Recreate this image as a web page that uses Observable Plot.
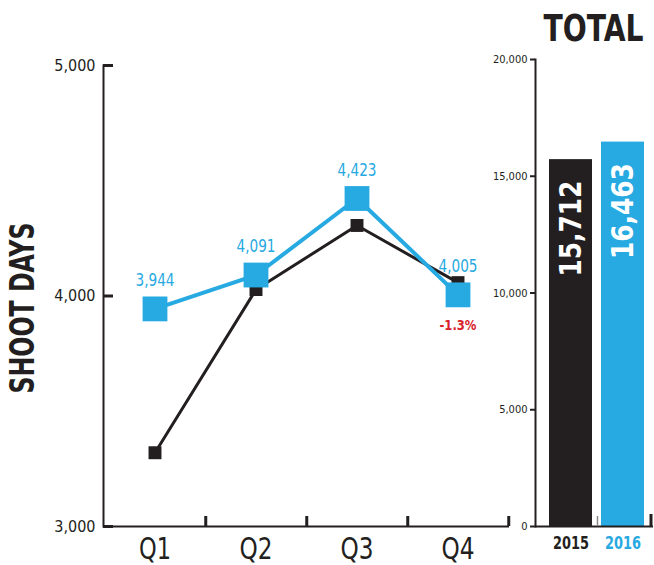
<!DOCTYPE html>
<html><head><meta charset="utf-8">
<script src="https://cdn.jsdelivr.net/npm/d3@7"></script>
<script src="https://cdn.jsdelivr.net/npm/@observablehq/plot@0.6"></script>
<style>
body{margin:0;background:#fff;}
#wrap{position:relative;width:654px;height:565px;overflow:hidden;background:#fff;}
#left{position:absolute;left:0;top:0}
#right{position:absolute;left:480px;top:0}
</style></head><body><div id="wrap"><div id="left"></div><div id="right"></div></div>
<script>
const quarters = ["Q1", "Q2", "Q3", "Q4"];
const days2015 = [3320, 4028, 4306, 4058];
const days2016 = [3944, 4091, 4423, 4005];
const yTicks = [3000, 4000, 5000];
const years = ["2015", "2016"];
const totals = [15712, 16463];
const totalTicks = [0, 5000, 10000, 15000, 20000];
const q4Change = "-1.3%";
const yTitle = "SHOOT DAYS";
const totalTitle = "TOTAL";

const BLUE = "#27a9e1", BLACK = "#231f20", RED = "#d8232a", GRAY = "#888";
const FONT = "'Liberation Sans Narrow','DejaVu Sans Condensed','Roboto',sans-serif";
const fmt = d3.format(",");

// rendered widths (px) of the condensed texts, to mimic the narrow typeface
const textWidths = {
  "SHOOT DAYS": 171, "TOTAL": 100, "15,712": 96, "16,463": 96,
  "Q1": 32, "Q2": 33, "Q3": 33, "Q4": 33, "2015": 36, "2016": 36,
  "3,944": 39, "4,091": 39, "4,423": 39, "4,005": 39, "-1.3%": 37
};
function condense(svg) {
  svg.querySelectorAll("text").forEach(t => {
    const w = textWidths[t.textContent];
    if (w) { t.setAttribute("textLength", w); t.setAttribute("lengthAdjust", "spacingAndGlyphs"); }
  });
  return svg;
}

const rows15 = quarters.map((q, i) => ({q, v: days2015[i]}));
const rows16 = quarters.map((q, i) => ({q, v: days2016[i]}));
const bars = years.map((year, i) => ({year, total: totals[i]}));

const LW = 520, LML = 103, LMR = 11;
const halfBand = (LW - LML - LMR) / quarters.length / 2;

const left = Plot.plot({
  width: LW, height: 565, marginLeft: LML, marginRight: LMR, marginTop: 65, marginBottom: 39,
  style: {fontFamily: FONT, background: "transparent", overflow: "visible", color: BLACK},
  x: {type: "band", domain: quarters, padding: 0},
  y: {domain: [3000, 5000]},
  marks: [
    Plot.frame({anchor: "left", stroke: BLACK, strokeWidth: 2}),
    Plot.ruleY([3000], {stroke: BLACK, strokeWidth: 2}),
    Plot.axisY({ticks: yTicks, tickSize: -10, tickFormat: () => "", strokeWidth: 3, label: null}),
    Plot.axisY({ticks: yTicks, tickSize: 0, tickPadding: 8, tickFormat: fmt, fontSize: 16, label: null}),
    Plot.axisX({tickSize: -10, dx: halfBand, tickFormat: () => "", strokeWidth: 3, label: null}),
    Plot.axisX({tickSize: 0, tickPadding: 11, fontSize: 30, label: null}),
    Plot.text([yTitle], {frameAnchor: "left", textAnchor: "middle", dx: -80, dy: 12, rotate: -90, fontSize: 34, fontWeight: 900, fill: BLACK}),
    Plot.line(rows15, {x: "q", y: "v", stroke: BLACK, strokeWidth: 3}),
    Plot.dot(rows15, {x: "q", y: "v", symbol: "square", r: 7.3, fill: BLACK, stroke: null}),
    Plot.line(rows16, {x: "q", y: "v", stroke: BLUE, strokeWidth: 4}),
    Plot.dot(rows16, {x: "q", y: "v", symbol: "square", r: 14, fill: BLUE, stroke: null}),
    Plot.text(rows16, {x: "q", y: "v", text: d => fmt(d.v), dy: -28, fill: BLUE, fontSize: 17}),
    Plot.text([q4Change], {x: () => quarters[3], y: () => days2016[3], dy: 31, fill: RED, fontSize: 14, fontWeight: "bold"})
  ]
});
document.getElementById("left").append(condense(left));

const right = Plot.plot({
  width: 174, height: 565, marginLeft: 55, marginRight: 1, marginTop: 59, marginBottom: 39,
  style: {fontFamily: FONT, background: "transparent", overflow: "visible", color: BLACK},
  x: {domain: years, paddingInner: 0.17, paddingOuter: 0.2, align: 0.62},
  y: {domain: [0, 20000]},
  color: {domain: years, range: [BLACK, BLUE]},
  marks: [
    Plot.barY(bars, {x: "year", y: "total", fill: "year"}),
    Plot.frame({anchor: "left", stroke: BLACK, strokeWidth: 2}),
    Plot.ruleY([0], {stroke: BLACK, strokeWidth: 2}),
    Plot.axisY({ticks: totalTicks, tickSize: 5, tickPadding: 3, strokeWidth: 2, tickFormat: fmt, fontSize: 11, label: null}),
    Plot.axisX({ticks: [years[0]], tickSize: -10, dx: 26.5, tickFormat: () => "", stroke: GRAY, strokeWidth: 1.5, label: null}),
    Plot.axisX({ticks: [years[1]], tickSize: -12, dx: 28, tickFormat: () => "", stroke: BLACK, strokeWidth: 3, label: null}),
    Plot.axisX({tickSize: 0, tickPadding: 10, fontSize: 18, fontWeight: "bold", fill: d => d, label: null}),
    Plot.text(bars, {x: "year", y: "total", text: d => fmt(d.total), rotate: -90, textAnchor: "end", dy: 21, fill: "white", fontSize: 30, fontWeight: "bold"}),
    Plot.text([totalTitle], {frameAnchor: "top", dx: -1, dy: -31, lineAnchor: "middle", fontSize: 38, fontWeight: 900, fill: BLACK})
  ]
});
document.getElementById("right").append(condense(right));
</script></body></html>
